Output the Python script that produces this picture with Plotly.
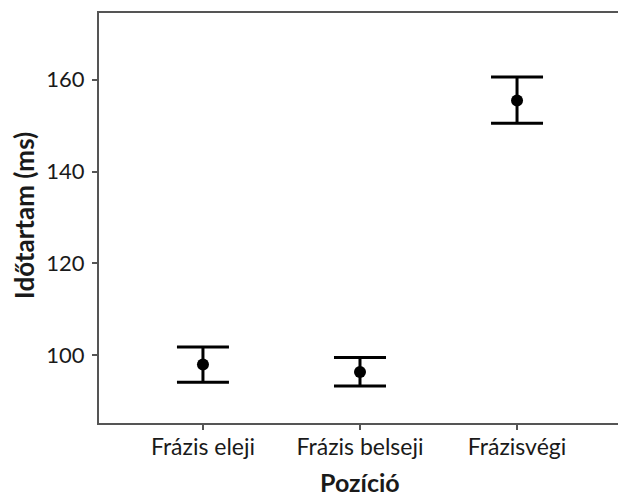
import plotly.graph_objects as go

categories = ["Frázis eleji", "Frázis belseji", "Frázisvégi"]
means = [97.97, 96.36, 155.5]
upper = [101.8, 99.5, 160.6]
lower = [94.1, 93.3, 150.55]
y_ticks = [100, 120, 140, 160]

err_plus = [u - m for u, m in zip(upper, means)]
err_minus = [m - l for m, l in zip(means, lower)]

fig = go.Figure()
fig.add_trace(go.Scatter(
    x=[0, 1, 2], y=means, mode="markers",
    marker=dict(color="black", size=12),
    error_y=dict(type="data", symmetric=False, array=err_plus, arrayminus=err_minus,
                 color="black", thickness=3, width=26),
    showlegend=False, hoverinfo="skip",
))

font = "Lato"
txt = "#1a1a1a"
fig.update_layout(
    width=618, height=496,
    margin=dict(l=99, r=0, t=13, b=73),
    plot_bgcolor="white", paper_bgcolor="white",
    font=dict(family=font, color=txt),
)
fig.update_xaxes(
    range=[-0.662, 2.643], tickvals=[0, 1, 2], ticktext=categories,
    showline=True, linecolor="#555555", linewidth=2, mirror=True,
    ticks="outside", ticklen=5, tickwidth=2, tickcolor="#555555",
    showgrid=False, zeroline=False, automargin=False,
    ticklabelstandoff=-3,
    tickfont=dict(size=23, family=font, color=txt),
)
fig.update_yaxes(
    range=[85.23, 174.55], tickvals=y_ticks,
    showline=True, linecolor="#555555", linewidth=2, mirror=False,
    ticks="outside", ticklen=5, tickwidth=2, tickcolor="#555555",
    showgrid=False, zeroline=False, automargin=False,
    ticklabelstandoff=3,
    tickfont=dict(size=22, family=font, color=txt),
)
fig.add_annotation(text="<b>Pozíció</b>", xref="paper", yref="paper",
                   x=0.503, y=-0.1437, showarrow=False,
                   xanchor="center", yanchor="middle",
                   font=dict(size=25, family=font, color=txt))
fig.add_annotation(text="<b>Időtartam (ms)</b>", xref="paper", yref="paper",
                   x=-0.1445, y=0.505, showarrow=False, textangle=-90,
                   xanchor="center", yanchor="middle",
                   font=dict(size=26, family=font, color=txt))

# remove the default page margin so the 618x496 figure fills the window exactly
fig.write_html("out.html", config={"displayModeBar": False},
               post_script="document.body.style.margin='0';")
